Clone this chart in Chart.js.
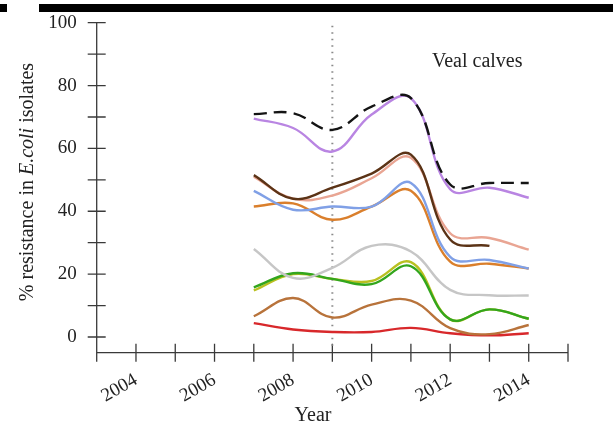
<!DOCTYPE html>
<html>
<head>
<meta charset="utf-8">
<script src="https://cdn.jsdelivr.net/npm/chart.js@4"></script>
<style>
  body { margin: 0; background: #fff; }
  #wrap { position: relative; width: 613px; height: 428px; overflow: hidden; }
  #bar { position: absolute; left: 39px; top: 4px; width: 574px; height: 8px; background: #000; }
  #dot { position: absolute; left: 0; top: 4px; width: 7px; height: 8px; background: #000; }
</style>
</head>
<body>
<div id="wrap">
  <canvas id="chart" width="613" height="428"></canvas>
  <div id="bar"></div>
  <div id="dot"></div>
</div>
<script>
// Years on the x axis and the data
const years = [2007, 2008, 2009, 2010, 2011, 2012, 2013, 2014];
const xTicks = [2004, 2006, 2008, 2010, 2012, 2014];
const yTicks = [0, 20, 40, 60, 80, 100];

const blackDashed = [70.9, 71.2, 65.9, 73.3, 76.0, 48.5, 49.0, 49.0];
const purple = [69.5, 66.5, 59.0, 70.8, 76.0, 47.0, 47.5, 44.3];
const darkBrown = [51.5, 44.0, 47.5, 52.0, 58.0, 31.0, 29.0, null];
const salmon = [51.0, 44.0, 45.0, 50.5, 57.0, 33.0, 31.5, 27.8];
const blue = [46.5, 40.5, 41.5, 41.5, 49.0, 25.5, 24.5, 21.8];
const orange = [41.5, 42.5, 37.3, 41.5, 46.5, 24.0, 23.3, 21.8];
const gray = [28.0, 18.8, 22.0, 29.0, 27.2, 15.0, 13.3, 13.2];
const green = [15.8, 20.3, 18.5, 16.8, 22.5, 5.6, 8.8, 5.8];
const yellow = [14.8, 20.0, 18.5, 17.8, 23.8, 5.6, 8.8, 5.8];
const brown = [6.6, 12.4, 6.2, 10.3, 11.6, 2.8, 0.9, 3.8];
const red = [4.4, 2.4, 1.6, 1.6, 2.9, 1.2, 0.5, 1.2];

const markerYear = 2009;

const serif = "'Liberation Serif', 'Times New Roman', serif";

function series(values, color, dash) {
  return {
    data: years.map((y, i) => ({ x: y, y: values[i] })),
    borderColor: color,
    borderWidth: 2.4,
    borderDash: dash || [],
    pointRadius: 0,
    tension: 0.4,
    fill: false,
  };
}

// axis lines and ticks that cross the axis on both sides
const axesPlugin = {
  id: "axes",
  beforeDatasetsDraw(chart) {
    const ctx = chart.ctx;
    const xs = chart.scales.x;
    const ys = chart.scales.y;
    const x0 = xs.left;
    const y0 = ys.bottom;
    ctx.save();
    ctx.strokeStyle = "#3a3a3a";
    ctx.lineWidth = 1.3;
    ctx.beginPath();
    ctx.moveTo(x0, ys.getPixelForValue(100));
    ctx.lineTo(x0, y0 + 9);
    ctx.moveTo(x0, y0);
    ctx.lineTo(xs.right, y0);
    for (let v = 0; v <= 100; v += 10) {
      const py = ys.getPixelForValue(v);
      ctx.moveTo(x0 - 9, py);
      ctx.lineTo(x0 + 9, py);
    }
    for (let yr = xs.min + 1; yr <= xs.max; yr++) {
      const px = xs.getPixelForValue(yr);
      ctx.moveTo(px, y0 - 9);
      ctx.lineTo(px, y0 + 9);
    }
    ctx.stroke();
    ctx.restore();
  },
  afterDraw(chart) {
    const ctx = chart.ctx;
    ctx.save();
    ctx.fillStyle = "#222";
    ctx.textBaseline = "alphabetic";

    // panel label
    ctx.font = "20px " + serif;
    ctx.textAlign = "left";
    ctx.fillText("Veal calves", 432, 67);

    // x title
    ctx.textAlign = "center";
    ctx.fillText("Year", 313, 421);

    // y title with italic E.coli
    const parts = [
      ["% resistance in ", "20px " + serif],
      ["E.coli", "italic 20px " + serif],
      [" isolates", "20px " + serif],
    ];
    let total = 0;
    parts.forEach((p) => {
      ctx.font = p[1];
      total += ctx.measureText(p[0]).width;
    });
    ctx.translate(33, 182);
    ctx.rotate(-Math.PI / 2);
    ctx.textAlign = "left";
    let cx = -total / 2;
    parts.forEach((p) => {
      ctx.font = p[1];
      ctx.fillText(p[0], cx, 0);
      cx += ctx.measureText(p[0]).width;
    });
    ctx.restore();
  },
};

const ctx = document.getElementById("chart").getContext("2d");
new Chart(ctx, {
  type: "line",
  data: {
    datasets: [
      series(blackDashed, "#141414", [13, 7]),
      series(purple, "#b985e2"),
      series(darkBrown, "#5b3316"),
      series(salmon, "#e9a593"),
      series(blue, "#80a0e6"),
      series(orange, "#da7f2c"),
      series(gray, "#c6c6c6"),
      series(green, "#33a61d"),
      series(yellow, "#b9c021"),
      series(brown, "#b8733b"),
      series(red, "#d8282b"),
      {
        data: [
          { x: markerYear, y: 99 },
          { x: markerYear, y: -4 },
        ],
        borderColor: "#8a8a8a",
        borderWidth: 2,
        borderDash: [1.5, 5],
        pointRadius: 0,
      },
    ],
  },
  options: {
    responsive: false,
    animation: false,
    events: [],
    layout: { padding: { left: 0, right: 45, top: 22.7, bottom: 0 } },
    plugins: { legend: { display: false }, tooltip: { enabled: false } },
    scales: {
      x: {
        type: "linear",
        min: 2003,
        max: 2015,
        grid: { display: false },
        border: { display: false },
        afterFit: (scale) => {
          scale.height = 75.3;
          scale.paddingLeft = 0;
          scale.paddingRight = 0;
        },
        ticks: {
          stepSize: 1,
          autoSkip: false,
          minRotation: 30,
          maxRotation: 30,
          padding: 8,
          color: "#222",
          font: { family: serif, size: 19 },
          callback: (v) => (xTicks.includes(v) ? String(v) : ""),
        },
      },
      y: {
        min: -5,
        max: 100,
        grid: { display: false },
        border: { display: false },
        afterFit: (scale) => {
          scale.width = 96.7;
          scale.paddingTop = 0;
          scale.paddingBottom = 0;
        },
        ticks: {
          stepSize: 20,
          includeBounds: false,
          padding: 12,
          color: "#222",
          font: { family: serif, size: 19 },
          callback: (v) => (yTicks.includes(v) ? String(v) : ""),
        },
      },
    },
  },
  plugins: [axesPlugin],
});
</script>
</body>
</html>
